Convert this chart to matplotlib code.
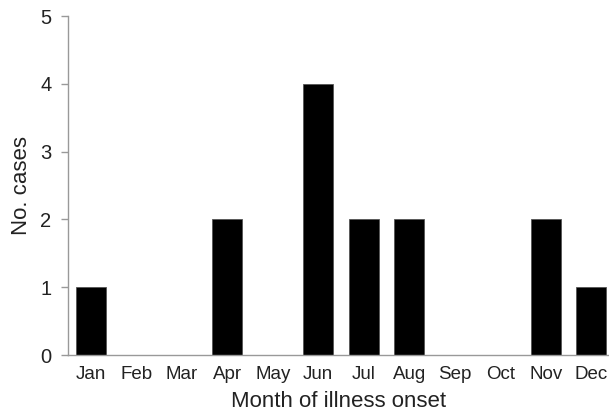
import matplotlib.pyplot as plt

months = ["Jan", "Feb", "Mar", "Apr", "May", "Jun", "Jul", "Aug", "Sep", "Oct", "Nov", "Dec"]
cases = [1, 0, 0, 2, 0, 4, 2, 2, 0, 0, 2, 1]

plt.rcParams['font.family'] = ['Liberation Sans', 'DejaVu Sans']

fig = plt.figure(figsize=(6.09, 4.15), dpi=100)
ax = fig.add_axes([68 / 609, 60 / 415, 1 - 68 / 609, 339 / 415])

x = list(range(len(months)))
ax.bar(x, cases, width=0.66, color='black', edgecolor='#555555', linewidth=0.6)

ax.set_xlim(-0.5, 11.39)
ax.set_ylim(0, 5)
ax.set_xticks(x)
ax.set_xticklabels(months, fontsize=13.5, color='#222222')
ax.set_yticks(range(6))
ax.set_yticklabels([str(v) for v in range(6)], fontsize=14.5, color='#222222')

for s in ['top', 'right']:
    ax.spines[s].set_visible(False)
for s in ['left', 'bottom']:
    ax.spines[s].set_color('#999999')
    ax.spines[s].set_linewidth(1.0)

ax.tick_params(axis='y', length=5, color='#999999', width=1.0, pad=7)
ax.tick_params(axis='x', length=0, pad=8)

ax.set_xlabel("Month of illness onset", fontsize=16, labelpad=6, color='#222222')
ax.set_ylabel("No. cases", fontsize=16, labelpad=6, color='#222222')

fig.savefig("out.png", dpi=100)
